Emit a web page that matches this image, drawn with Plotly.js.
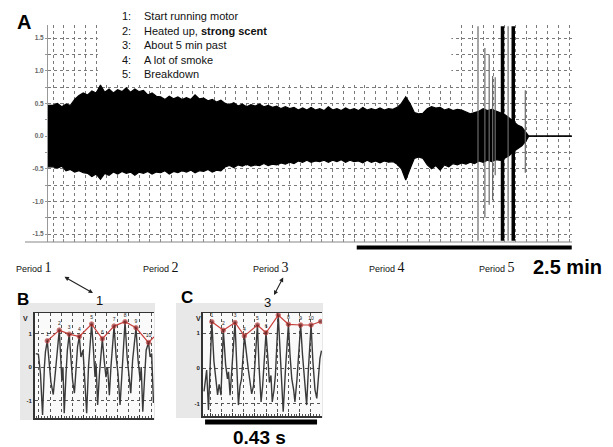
<!DOCTYPE html>
<html><head><meta charset="utf-8">
<script src="https://cdn.plot.ly/plotly-3.0.1.min.js"></script>
<style>html,body{margin:0;padding:0;background:#fff}#chart{width:613px;height:447px}</style>
</head><body><div id="chart"></div>
<script>
// ---------- Panel A: motor signal envelope (time in min, amplitude in V) ----------
const envTime = [-0.06,0.00,0.05,0.10,0.15,0.20,0.25,0.30,0.35,0.40,0.45,0.50,0.55,0.60,0.65,0.70,0.75,0.80,0.85,0.90,0.95,
  1.00,1.05,1.10,1.15,1.20,1.25,1.30,1.35,1.40,1.45,1.50,1.55,1.60,1.65,1.70,1.75,1.80,1.85,1.90,1.95,
  2.00,2.05,2.10,2.15,2.20,2.25,2.30,2.35,2.40,2.45,2.50,2.55,2.60,2.65,2.70,2.75,2.80,2.85,2.90,2.95,
  3.00,3.05,3.10,3.15,3.20,3.25,3.30,3.35,3.40,3.45,3.50,3.55,3.60,3.65,3.70,3.75,3.80,3.85,3.90,3.95,
  4.00,4.05,4.10,4.15,4.20,4.25,4.30,4.35,4.40,4.45,4.50,4.55,4.60,4.65,4.70,4.75,4.80,4.85,4.90,4.95,
  5.00,5.05,5.10,5.15,5.20,5.25,5.30,5.35,5.40,5.45,5.50,5.53,6.03];
const envUpper = [0.47,0.47,0.50,0.45,0.49,0.47,0.56,0.62,0.66,0.63,0.69,0.66,0.78,0.67,0.72,0.66,0.71,0.68,0.74,0.67,0.72,
  0.68,0.70,0.63,0.66,0.61,0.60,0.56,0.61,0.57,0.60,0.56,0.59,0.56,0.63,0.57,0.58,0.54,0.56,0.52,0.55,
  0.50,0.48,0.51,0.46,0.49,0.45,0.48,0.46,0.49,0.45,0.47,0.44,0.46,0.42,0.45,0.42,0.44,0.40,0.43,0.40,
  0.44,0.40,0.42,0.39,0.45,0.40,0.42,0.39,0.43,0.40,0.42,0.39,0.44,0.40,0.42,0.40,0.43,0.40,0.42,0.41,
  0.44,0.50,0.60,0.50,0.36,0.34,0.35,0.42,0.45,0.43,0.44,0.40,0.42,0.39,0.41,0.40,0.37,0.34,0.36,0.38,
  0.42,0.39,0.41,0.38,0.36,0.33,0.28,0.22,0.17,0.14,0.06,0,0];
const envLower = [-0.47,-0.47,-0.49,-0.46,-0.53,-0.51,-0.55,-0.53,-0.56,-0.57,-0.62,-0.58,-0.66,-0.57,-0.60,-0.55,-0.58,-0.54,-0.57,-0.55,-0.60,
  -0.55,-0.57,-0.54,-0.58,-0.55,-0.56,-0.53,-0.58,-0.54,-0.56,-0.53,-0.55,-0.52,-0.56,-0.53,-0.54,-0.51,-0.55,-0.52,-0.53,
  -0.47,-0.45,-0.48,-0.44,-0.46,-0.43,-0.46,-0.44,-0.45,-0.42,-0.45,-0.43,-0.44,-0.41,-0.43,-0.40,-0.42,-0.38,-0.40,-0.37,
  -0.40,-0.38,-0.39,-0.37,-0.40,-0.37,-0.39,-0.36,-0.40,-0.37,-0.39,-0.38,-0.41,-0.37,-0.40,-0.38,-0.41,-0.38,-0.40,-0.39,
  -0.43,-0.50,-0.67,-0.50,-0.34,-0.32,-0.34,-0.44,-0.50,-0.45,-0.52,-0.44,-0.47,-0.42,-0.44,-0.41,-0.43,-0.40,-0.42,-0.38,
  -0.40,-0.37,-0.39,-0.36,-0.37,-0.34,-0.30,-0.24,-0.19,-0.15,-0.07,0,0];
// period-5 bursts
const burstTime = [4.94,5.02,5.07,5.11,5.14,5.29,5.49];
const burstTop = [1.68,1.35,1.25,0.92,0.90,1.68,0.70];
const burstBottom = [-1.60,-1.25,-1.05,-0.98,-0.60,-1.60,-0.56];
const bigBurstTime = [5.225,5.35];
const bigBurstTop = [1.68,1.68];
const bigBurstBottom = [-1.60,-1.60];
const aTickVals = [-1.5,-1.25,-1.0,-0.75,-0.5,-0.25,0,0.25,0.5,0.75,1.0,1.25,1.5];
const aTickText = ['-1.5','','-1.0','','-0.5','','0.0','','0.5','','1.0','','1.5'];
const noteNums = ['1:','2:','3:','4:','5:'];
const noteTexts = ['Start running motor','Heated up, <b>strong scent</b>','About 5 min past','A lot of smoke','Breakdown'];
const periodNums = ['1','2','3','4','5'];

// ---------- Panel B: period 1 waveform (time in ms, V) ----------
const bTime = [-12,-2,6,14,21,25,32,40,46,55,61,67,78,84,88,92,97,104,109,116,123,129,136,142,148,155,161,169,177,183,190,202,209,215,219,225,232,243,250,257,263,270,276,288,296,303,311,319,330,338,344,352,359,372,380,388,392,398,405,411,420,426,432,439];
const bVolt = [0.40,0.38,-0.2,-1.43,0.0,0.45,0.78,0.0,-0.45,-0.82,-0.3,0.3,1.10,0.2,-0.4,0.0,-1.38,-0.2,0.5,0.98,0.2,-0.4,-0.78,0.0,0.6,0.91,0.3,0.5,-0.4,-1.38,0.0,1.28,0.5,-0.3,0.1,-1.13,-0.2,0.84,0.2,-0.3,0.0,-0.84,0.0,1.22,0.3,-0.2,-1.13,0.0,1.35,0.3,-0.1,-0.78,0.2,1.17,0.2,-0.4,0.0,-1.33,-0.3,0.5,0.73,0.3,0.4,-1.07];
const bPeakT = [32,78,116,155,202,243,288,330,372,420,441];
const bPeakV = [0.78,1.10,0.98,0.91,1.28,0.84,1.22,1.35,1.17,0.73,0.90];
const bPeakLbl = ['1','2','3','4','5','6','7','8','9','10',''];

// ---------- Panel C: period 3 waveform (time in ms, V) ----------
const cTime = [-23,-13,-6,7,15,22,29,35,42,51,60,67,71,77,84,96,102,109,115,121,132,140,147,154,160,167,182,188,196,202,215,223,228,234,239,246,251,262,271,281,290,301,307,314,321,326,334,348,355,363,371,378,388,395,403,410,422,428];
const cVolt = [-0.65,-0.05,-1.18,1.32,0.2,-0.38,-0.75,-0.45,-0.76,1.08,0.1,-0.3,-0.1,-0.76,0.0,1.30,0.2,-1.04,-0.5,-0.3,0.92,0.3,-0.03,-0.4,-0.72,-0.5,1.23,0.1,-0.95,-0.5,1.01,0.2,-0.4,-0.2,-0.95,-0.6,-0.2,1.51,0.2,-1.23,0.0,1.25,0.4,-0.3,-0.6,-0.95,-0.3,1.23,0.4,-0.4,-1.04,0.0,1.23,0.2,-0.6,-0.85,0.28,0.5];
const cPeakT = [7,51,96,132,182,215,262,301,348,388,425];
const cPeakV = [1.32,1.08,1.30,0.92,1.23,1.01,1.51,1.25,1.23,1.23,1.33];
const cPeakLbl = ['1','2','3','4','5','6','7','8','9','10',''];
const insetTickVals = [-1,0,1];
const insetTickText = ['-1','0','1'];

// ---------- helpers ----------
const W = 613, H = 447;
const px = v => v / W, py = v => 1 - v / H;
function segs(xs, tops, bots){
  const x = [], y = [];
  xs.forEach((v,i)=>{ x.push(v,v,null); y.push(tops[i],bots[i],null); });
  return {x, y};
}
const gs = segs(burstTime, burstTop, burstBottom);
const bs = segs(bigBurstTime, bigBurstTop, bigBurstBottom);

const traces = [
  {x: envTime, y: envUpper, xaxis:'x', yaxis:'y', mode:'lines', line:{color:'#000', width:1.2}, hoverinfo:'skip'},
  {x: envTime, y: envLower, xaxis:'x', yaxis:'y', mode:'lines', line:{color:'#000', width:1.2}, fill:'tonexty', fillcolor:'#000', hoverinfo:'skip'},
  {x: gs.x, y: gs.y, xaxis:'x', yaxis:'y', mode:'lines', line:{color:'#6a6a6a', width:1.2}, hoverinfo:'skip'},
  {x: bs.x, y: bs.y, xaxis:'x', yaxis:'y', mode:'lines', line:{color:'#000', width:3.5}, hoverinfo:'skip'},
  {x: bTime, y: bVolt, xaxis:'x2', yaxis:'y2', mode:'lines', line:{color:'#3a3a3a', width:1.4}, hoverinfo:'skip'},
  {x: bPeakT, y: bPeakV, xaxis:'x2', yaxis:'y2', mode:'lines+markers+text', text: bPeakLbl, textposition:'top center',
   textfont:{size:5, color:'#222', family:'Liberation Sans'}, line:{color:'#c8403c', width:1.2},
   marker:{color:'#6e1c1c', size:[4.5,4.5,4.5,4.5,4.5,4.5,4.5,4.5,4.5,4.5,0]}, hoverinfo:'skip'},
  {x: cTime, y: cVolt, xaxis:'x3', yaxis:'y3', mode:'lines', line:{color:'#3a3a3a', width:1.4}, hoverinfo:'skip'},
  {x: cPeakT, y: cPeakV, xaxis:'x3', yaxis:'y3', mode:'lines+markers+text', text: cPeakLbl, textposition:'top center',
   textfont:{size:5, color:'#222', family:'Liberation Sans'}, line:{color:'#c8403c', width:1.2},
   marker:{color:'#6e1c1c', size:[4.5,4.5,4.5,4.5,4.5,4.5,4.5,4.5,4.5,4.5,4.5]}, hoverinfo:'skip'}
];

const gridStyle = {showgrid:true, gridcolor:'#7a7a7a', griddash:'dot', gridwidth:1, zeroline:false};
const insetX = Object.assign({}, gridStyle, {dtick:43, tick0:0, gridcolor:'#555', showticklabels:false, showline:true, linecolor:'#333', linewidth:1.5, mirror:true,
  ticks:'inside', ticklen:3, tickcolor:'#333', minor:{dtick:10.75, ticks:'inside', ticklen:2, tickcolor:'#555', showgrid:false}});
const insetY = Object.assign({}, gridStyle, {gridcolor:'#555', tickvals:insetTickVals, ticktext:insetTickText, showline:true, linecolor:'#333', linewidth:2,
  ticks:'', tickfont:{size:6, color:'#222', family:'Liberation Sans', weight:'bold'}});

const ann = [];
function A(o){ ann.push(Object.assign({xref:'paper', yref:'paper', xanchor:'center', yanchor:'middle', showarrow:false}, o)); }
// panel letters
A({x:px(24), y:py(22), text:'<b>A</b>', font:{size:20, family:'Liberation Sans', color:'#000'}});
A({x:px(23), y:py(299), text:'<b>B</b>', font:{size:17, family:'Liberation Sans', color:'#000'}});
A({x:px(187), y:py(297), text:'<b>C</b>', font:{size:17, family:'Liberation Sans', color:'#000'}});
// notes
noteNums.forEach((n,i)=>{
  A({x:px(120), y:py(16+14.5*i), xanchor:'left', text:n, font:{size:11, family:'Liberation Sans', color:'#111'}});
  A({x:px(142), y:py(16+14.5*i), xanchor:'left', text:noteTexts[i], font:{size:11, family:'Liberation Sans', color:'#111'}});
});
// period labels
const periodLeft = [14,141,251,367,477];
periodNums.forEach((n,i)=>{
  A({x:px(periodLeft[i]), y:py(267), xanchor:'left', text:'Period <span style="font-family:Liberation Serif;font-size:14px">'+n+'</span>',
    font:{size:9, family:'Liberation Sans', color:'#111'}});
});
A({x:px(567), y:py(267), text:'<b>2.5 min</b>', font:{size:20, family:'Liberation Sans', color:'#000'}});
A({x:px(259), y:py(437), text:'<b>0.43 s</b>', font:{size:19, family:'Liberation Sans', color:'#000'}});
A({x:px(99), y:py(300), text:'1', font:{size:13, family:'Liberation Sans', color:'#111'}});
A({x:px(267), y:py(302), text:'3', font:{size:13, family:'Liberation Sans', color:'#111'}});
A({x:px(25), y:py(318), text:'<b>V</b>', font:{size:7, family:'Liberation Sans', color:'#222'}});
A({x:px(198), y:py(318), text:'<b>V</b>', font:{size:7, family:'Liberation Sans', color:'#222'}});
// arrows
A({x:px(93), y:py(293), ax:-30, ay:-17, text:'', showarrow:true, arrowhead:2, startarrowhead:2, arrowside:'end+start', arrowsize:0.8, arrowwidth:1.1, arrowcolor:'#222', standoff:0, startstandoff:0});
A({x:px(274), y:py(295), ax:10, ay:-19, text:'', showarrow:true, arrowhead:2, startarrowhead:2, arrowside:'end+start', arrowsize:0.8, arrowwidth:1.1, arrowcolor:'#222', standoff:0, startstandoff:0});

const shapes = [
  // grey inset backgrounds
  {type:'rect', xref:'paper', yref:'paper', x0:px(20), x1:px(155), y0:py(420), y1:py(303), fillcolor:'#e8e8e8', line:{width:0}, layer:'below'},
  {type:'rect', xref:'paper', yref:'paper', x0:px(176), x1:px(323), y0:py(418), y1:py(303), fillcolor:'#e8e8e8', line:{width:0}, layer:'below'},
  {type:'rect', xref:'x2 domain', yref:'y2 domain', x0:0, x1:1, y0:0, y1:1, fillcolor:'#fafafa', line:{width:0}, layer:'below'},
  {type:'rect', xref:'x3 domain', yref:'y3 domain', x0:0, x1:1, y0:0, y1:1, fillcolor:'#fafafa', line:{width:0}, layer:'below'},
  // white block behind notes (hides upper grid)
  {type:'rect', xref:'x', yref:'y', x0:0.52, x1:4.63, y0:0.82, y1:1.8, fillcolor:'#fff', line:{width:0}, layer:'above'},
  // bottom axis line of A
  {type:'line', xref:'paper', yref:'paper', x0:px(25), x1:px(572), y0:py(242), y1:py(242), line:{color:'#888', width:1.2}},
  // 2.5 min scale bar
  {type:'line', xref:'x', yref:'paper', x0:3.53, x1:6.03, y0:py(247.5), y1:py(247.5), line:{color:'#000', width:4}},
  // 0.43 s scale bar (430 ms)
  {type:'line', xref:'x3', yref:'paper', x0:-19, x1:411, y0:py(422), y1:py(422), line:{color:'#000', width:5}}
];

const layout = {
  width:W, height:H, margin:{l:0,r:0,t:0,b:0}, paper_bgcolor:'#fff', plot_bgcolor:'rgba(0,0,0,0)', showlegend:false,
  xaxis: Object.assign({}, gridStyle, {domain:[px(48), px(572)], range:[-0.06, 6.033], dtick:0.125, tick0:0, showticklabels:false,
    ticks:'inside', ticklen:3, tickcolor:'#888', showline:false, anchor:'y'}),
  yaxis: Object.assign({}, gridStyle, {domain:[py(242), py(25)], range:[-1.62, 1.70], tickvals:aTickVals, ticktext:aTickText,
    showline:true, linecolor:'#999', linewidth:1, ticks:'outside', ticklen:2, tickcolor:'#999',
    tickfont:{size:6.5, color:'#666', family:'Liberation Sans', weight:'bold'}, anchor:'x'}),
  xaxis2: Object.assign({}, insetX, {domain:[px(35), px(154)], range:[-15, 441], anchor:'y2'}),
  yaxis2: Object.assign({}, insetY, {domain:[py(418), py(313)], range:[-1.52, 1.61], anchor:'x2'}),
  xaxis3: Object.assign({}, insetX, {domain:[px(203), px(322)], range:[-27, 430], anchor:'y3'}),
  yaxis3: Object.assign({}, insetY, {domain:[py(416), py(313)], range:[-1.35, 1.57], anchor:'x3'}),
  annotations: ann, shapes: shapes
};

Plotly.newPlot('chart', traces, layout, {staticPlot:true, displayModeBar:false});
</script>
</body></html>
